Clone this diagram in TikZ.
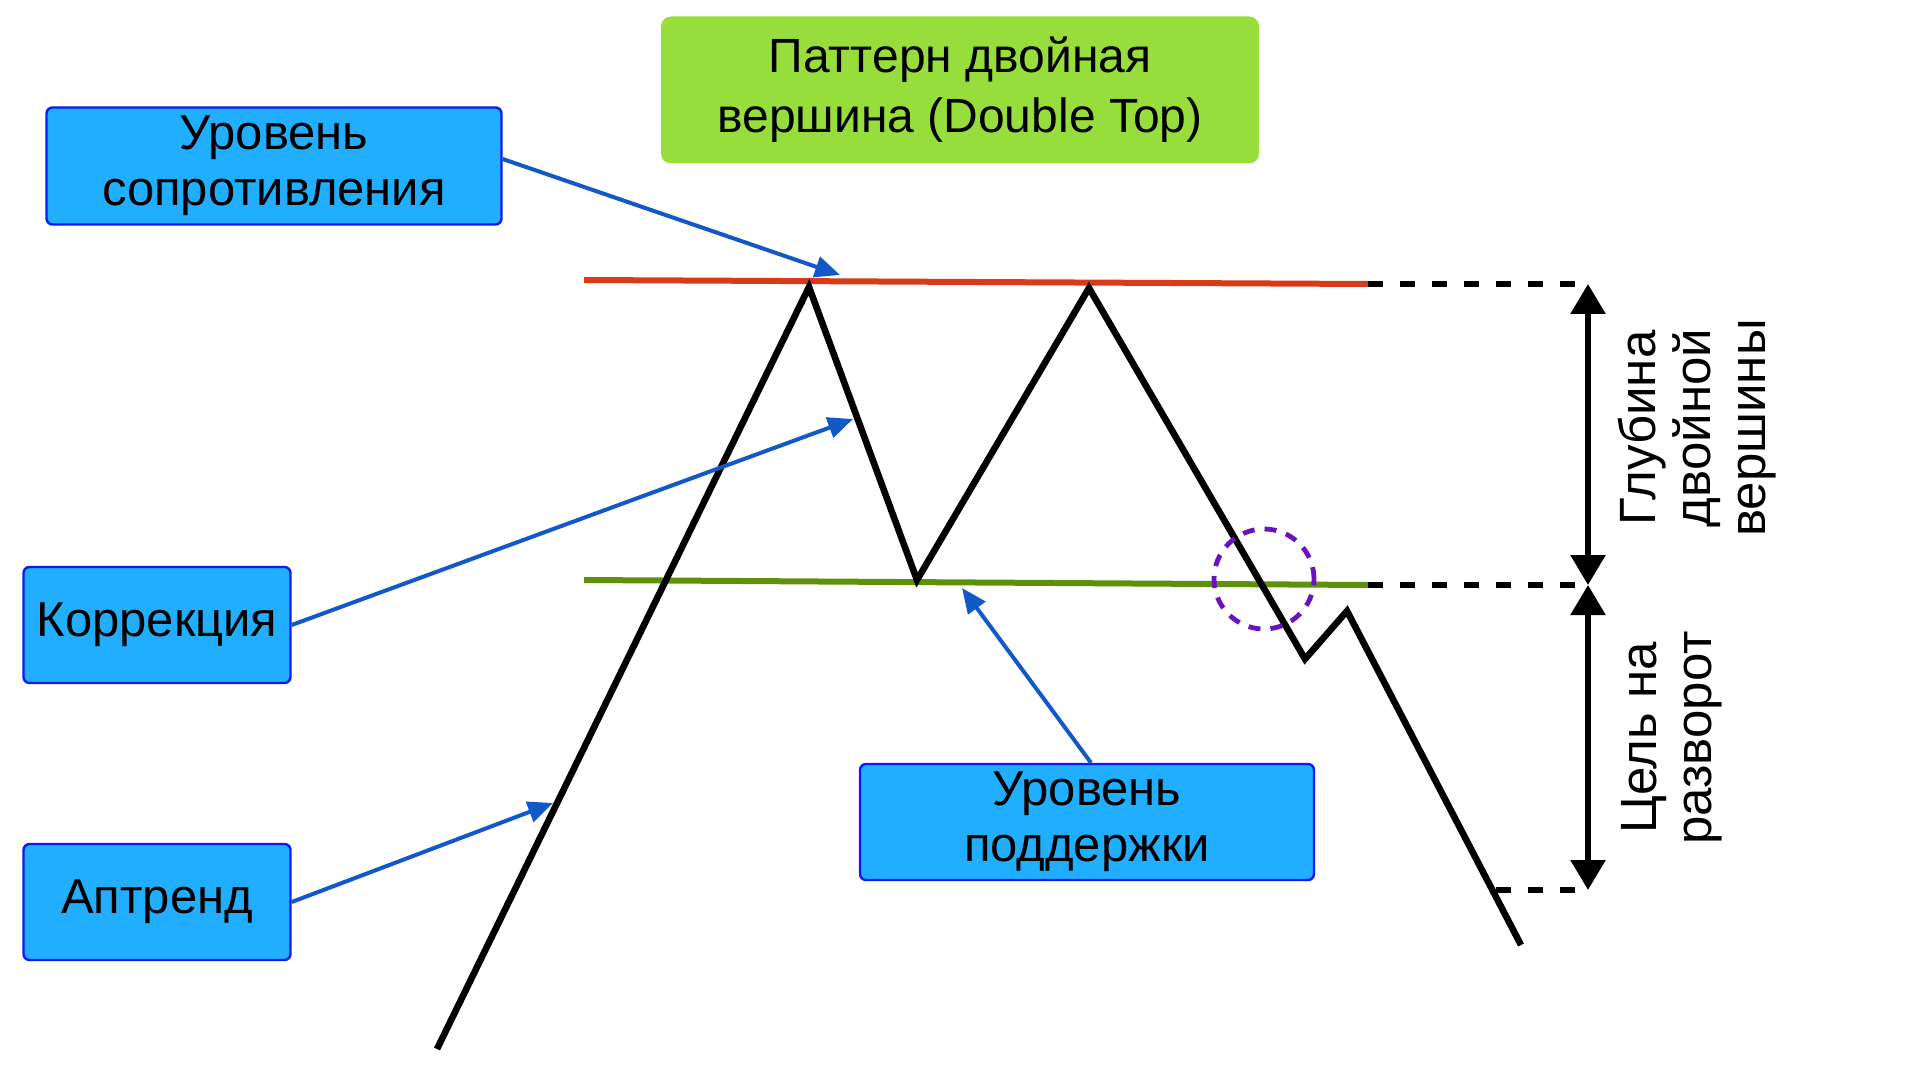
\documentclass[tikz,border=0pt]{standalone}
\usepackage{fontspec}
\setmainfont{Liberation Sans}
\usetikzlibrary{arrows.meta}
\definecolor{boxfill}{HTML}{22AEFF}
\definecolor{boxedge}{HTML}{0D1AF5}
\definecolor{titlefill}{HTML}{97DD3B}
\definecolor{pointblue}{HTML}{1258C6}
\definecolor{resred}{HTML}{D93A17}
\definecolor{supgreen}{HTML}{5E900A}
\definecolor{breakviolet}{HTML}{6A12C0}
\begin{document}
\begin{tikzpicture}[x=0.5pt, y=-0.5pt,
        labelbox/.style={shape=rectangle, rounded corners=3pt,
          draw=boxedge, line width=1.2pt, fill=boxfill, align=center,
          inner sep=0pt, font=\fontsize{24.5}{28}\selectfont},
        titlebox/.style={shape=rectangle, rounded corners=5pt,
          fill=titlefill, align=center, inner sep=0pt,
          minimum width=299pt, minimum height=73.5pt,
          font=\fontsize{24}{30}\selectfont},
        pointer/.style={draw=pointblue, line width=2pt,
          -{Triangle[length=12.5pt, width=10.5pt]}},
        level/.style={line width=3pt},
        extension/.style={line width=3.4pt, dash pattern=on 7.5pt off 8.5pt},
        span/.style={line width=2.8pt,
          {Triangle[length=15pt, width=17pt]}-{Triangle[length=15pt, width=17pt]}},
        sidetext/.style={rotate=90, align=center,
          font=\fontsize{25.5}{27.5}\selectfont}
        ]
    \useasboundingbox (0,0) rectangle (1920,1080);

    % price path
    \coordinate (p0) at (437,1049);
    \coordinate (p1) at (809,287);
    \coordinate (p2) at (917,580);
    \coordinate (p3) at (1089,288);
    \coordinate (p4) at (1305,659);
    \coordinate (p5) at (1347,611);
    \coordinate (p6) at (1521,945);

    % levels
    \coordinate (resL) at (584,280);
    \coordinate (resR) at (1368,284);
    \coordinate (supL) at (584,580);
    \coordinate (supR) at (1368,585);
    \coordinate (resEnd) at (1588,284);
    \coordinate (supEnd) at (1588,585);
    \coordinate (tgtL) at (1496,890);
    \coordinate (tgtEnd) at (1588,890);

    \draw[level, resred] (resL) -- (resR);
    \draw[level, supgreen] (supL) -- (supR);
    \draw[extension] (resR) -- (resEnd);
    \draw[extension] (supR) -- (supEnd);
    \draw[extension] (tgtL) -- (tgtEnd);

    \draw[line width=3.3pt] (p0) -- (p1) -- (p2) -- (p3) -- (p4) -- (p5) -- (p6);

    \draw[breakviolet, line width=2.4pt, dash pattern=on 6pt off 5pt]
      (1264,579) circle (25pt);

    % depth and target
    \draw[span] (resEnd) -- (supEnd);
    \draw[span] (supEnd) -- (tgtEnd);
    \node[sidetext] (depth) at (1697,428) {Глубина\\двойной\\вершины};
    \node[sidetext] (target) at (1672,738) {Цель на\\разворот};

    % labels
    \node[titlebox] (title) at (960,90) {Паттерн двойная\\вершина (Double Top)};
    \node[labelbox, minimum width=227.5pt, minimum height=58.5pt]
      (resistance) at (274,166) {Уровень\\сопротивления};
    \node[labelbox, minimum width=133.5pt, minimum height=58pt]
      (correction) at (157,625) {Коррекция};
    \node[labelbox, minimum width=133.5pt, minimum height=58pt]
      (uptrend) at (157,902) {Аптренд};
    \node[labelbox, minimum width=227pt, minimum height=58pt]
      (support) at (1087,822) {Уровень\\поддержки};

    \coordinate (resTip) at (840,275);
    \coordinate (corTip) at (853,419);
    \coordinate (upTip) at (553,803);
    \coordinate (supTip) at (962,588);

    \draw[pointer] ([yshift=3.5pt]resistance.east) -- (resTip);
    \draw[pointer] (correction.east) -- (corTip);
    \draw[pointer] (uptrend.east) -- (upTip);
    \draw[pointer] ([xshift=2pt]support.north) -- (supTip);
\end{tikzpicture}
\end{document}
